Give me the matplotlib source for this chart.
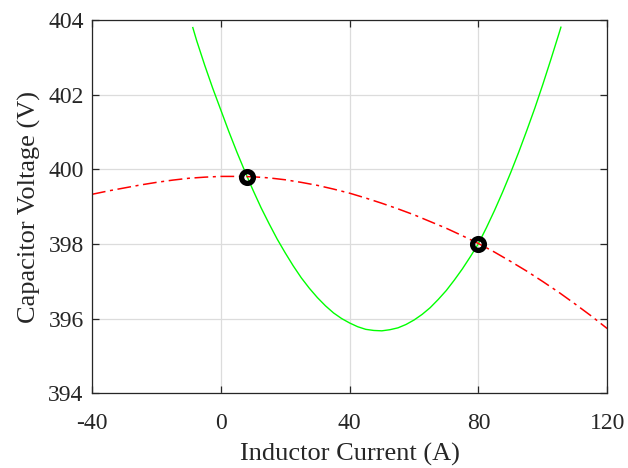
import numpy as np
import matplotlib
matplotlib.use("Agg")
import matplotlib.pyplot as plt

# green curve
green_x = [-8.7, -7.5, -5, -2.5, 0, 2.5, 5, 7.5, 10, 12.5, 15, 17.5, 20, 22.5,
           25, 27.5, 30, 32.5, 35, 37.5, 40, 42.5, 45, 47.5, 50, 52.5, 55,
           57.5, 60, 62.5, 65, 67.5, 70, 72.5, 75, 77.5, 80, 82.5, 85, 87.5,
           90, 92.5, 95, 97.5, 100, 102.5, 105, 105.6]
green_y = [403.80, 403.45, 402.79, 402.17, 401.59, 401.01, 400.46, 399.94,
           399.44, 398.97, 398.54, 398.13, 397.76, 397.41, 397.09, 396.81,
           396.56, 396.34, 396.15, 396.00, 395.88, 395.78, 395.71, 395.68,
           395.67, 395.70, 395.75, 395.84, 395.96, 396.11, 396.29, 396.51,
           396.75, 397.03, 397.33, 397.66, 398.01, 398.44, 398.90, 399.39,
           399.91, 400.46, 401.04, 401.64, 402.28, 402.95, 403.64, 403.81]

# red dash-dot curve
red_x = [-40, -35, -30, -25, -20, -15, -10, -5, 0, 5, 10, 15, 20, 25, 30, 35,
         40, 45, 50, 55, 60, 65, 70, 75, 80, 85, 90, 95, 100, 105, 110, 115, 120]
red_y = [399.33, 399.42, 399.50, 399.58, 399.65, 399.71, 399.76, 399.79,
         399.81, 399.81, 399.80, 399.77, 399.72, 399.65, 399.57, 399.47,
         399.36, 399.23, 399.09, 398.94, 398.78, 398.60, 398.42, 398.22,
         398.01, 397.78, 397.53, 397.27, 396.99, 396.70, 396.39, 396.07, 395.73]

# intersection points
pts_x = [8, 80]
pts_y = [399.80, 398.00]

x_ticks = [-40, 0, 40, 80, 120]
y_ticks = [394, 396, 398, 400, 402, 404]

plt.rcParams['font.family'] = ['Liberation Serif', 'DejaVu Serif']
plt.rcParams['axes.unicode_minus'] = False

fig = plt.figure(figsize=(6.28, 4.68), dpi=100)
ax = fig.add_axes([0.1465, 0.160, 0.8205, 0.797])

ax.plot(green_x, green_y, color='#00ff00', lw=1.0)
ax.plot(red_x, red_y, color='#ff0000', lw=1.1, linestyle=(0, (9, 3, 2, 3)))
ax.plot(pts_x, pts_y, linestyle='none', marker='o', markersize=8.5,
        markerfacecolor='none', markeredgecolor='black', markeredgewidth=3.8)

ax.set_xlim(-40, 120)
ax.set_ylim(394, 404)
ax.set_xticks(x_ticks)
ax.set_yticks(y_ticks)
ax.grid(True, color='#dcdcdc', lw=0.9)
ax.set_axisbelow(True)

ax.tick_params(direction='in', length=5, width=0.9, top=True, right=True,
               labelsize=17, colors='#262626')
ax.tick_params(axis='x', pad=14)
ax.tick_params(axis='y', pad=6)
for s in ax.spines.values():
    s.set_color('#262626')
    s.set_linewidth(0.9)

ax.set_xlabel('Inductor Current (A)', fontsize=19, color='#262626', labelpad=7)
ax.set_ylabel('Capacitor Voltage (V)', fontsize=19, color='#262626', labelpad=5)

fig.savefig('out.png', dpi=100)
